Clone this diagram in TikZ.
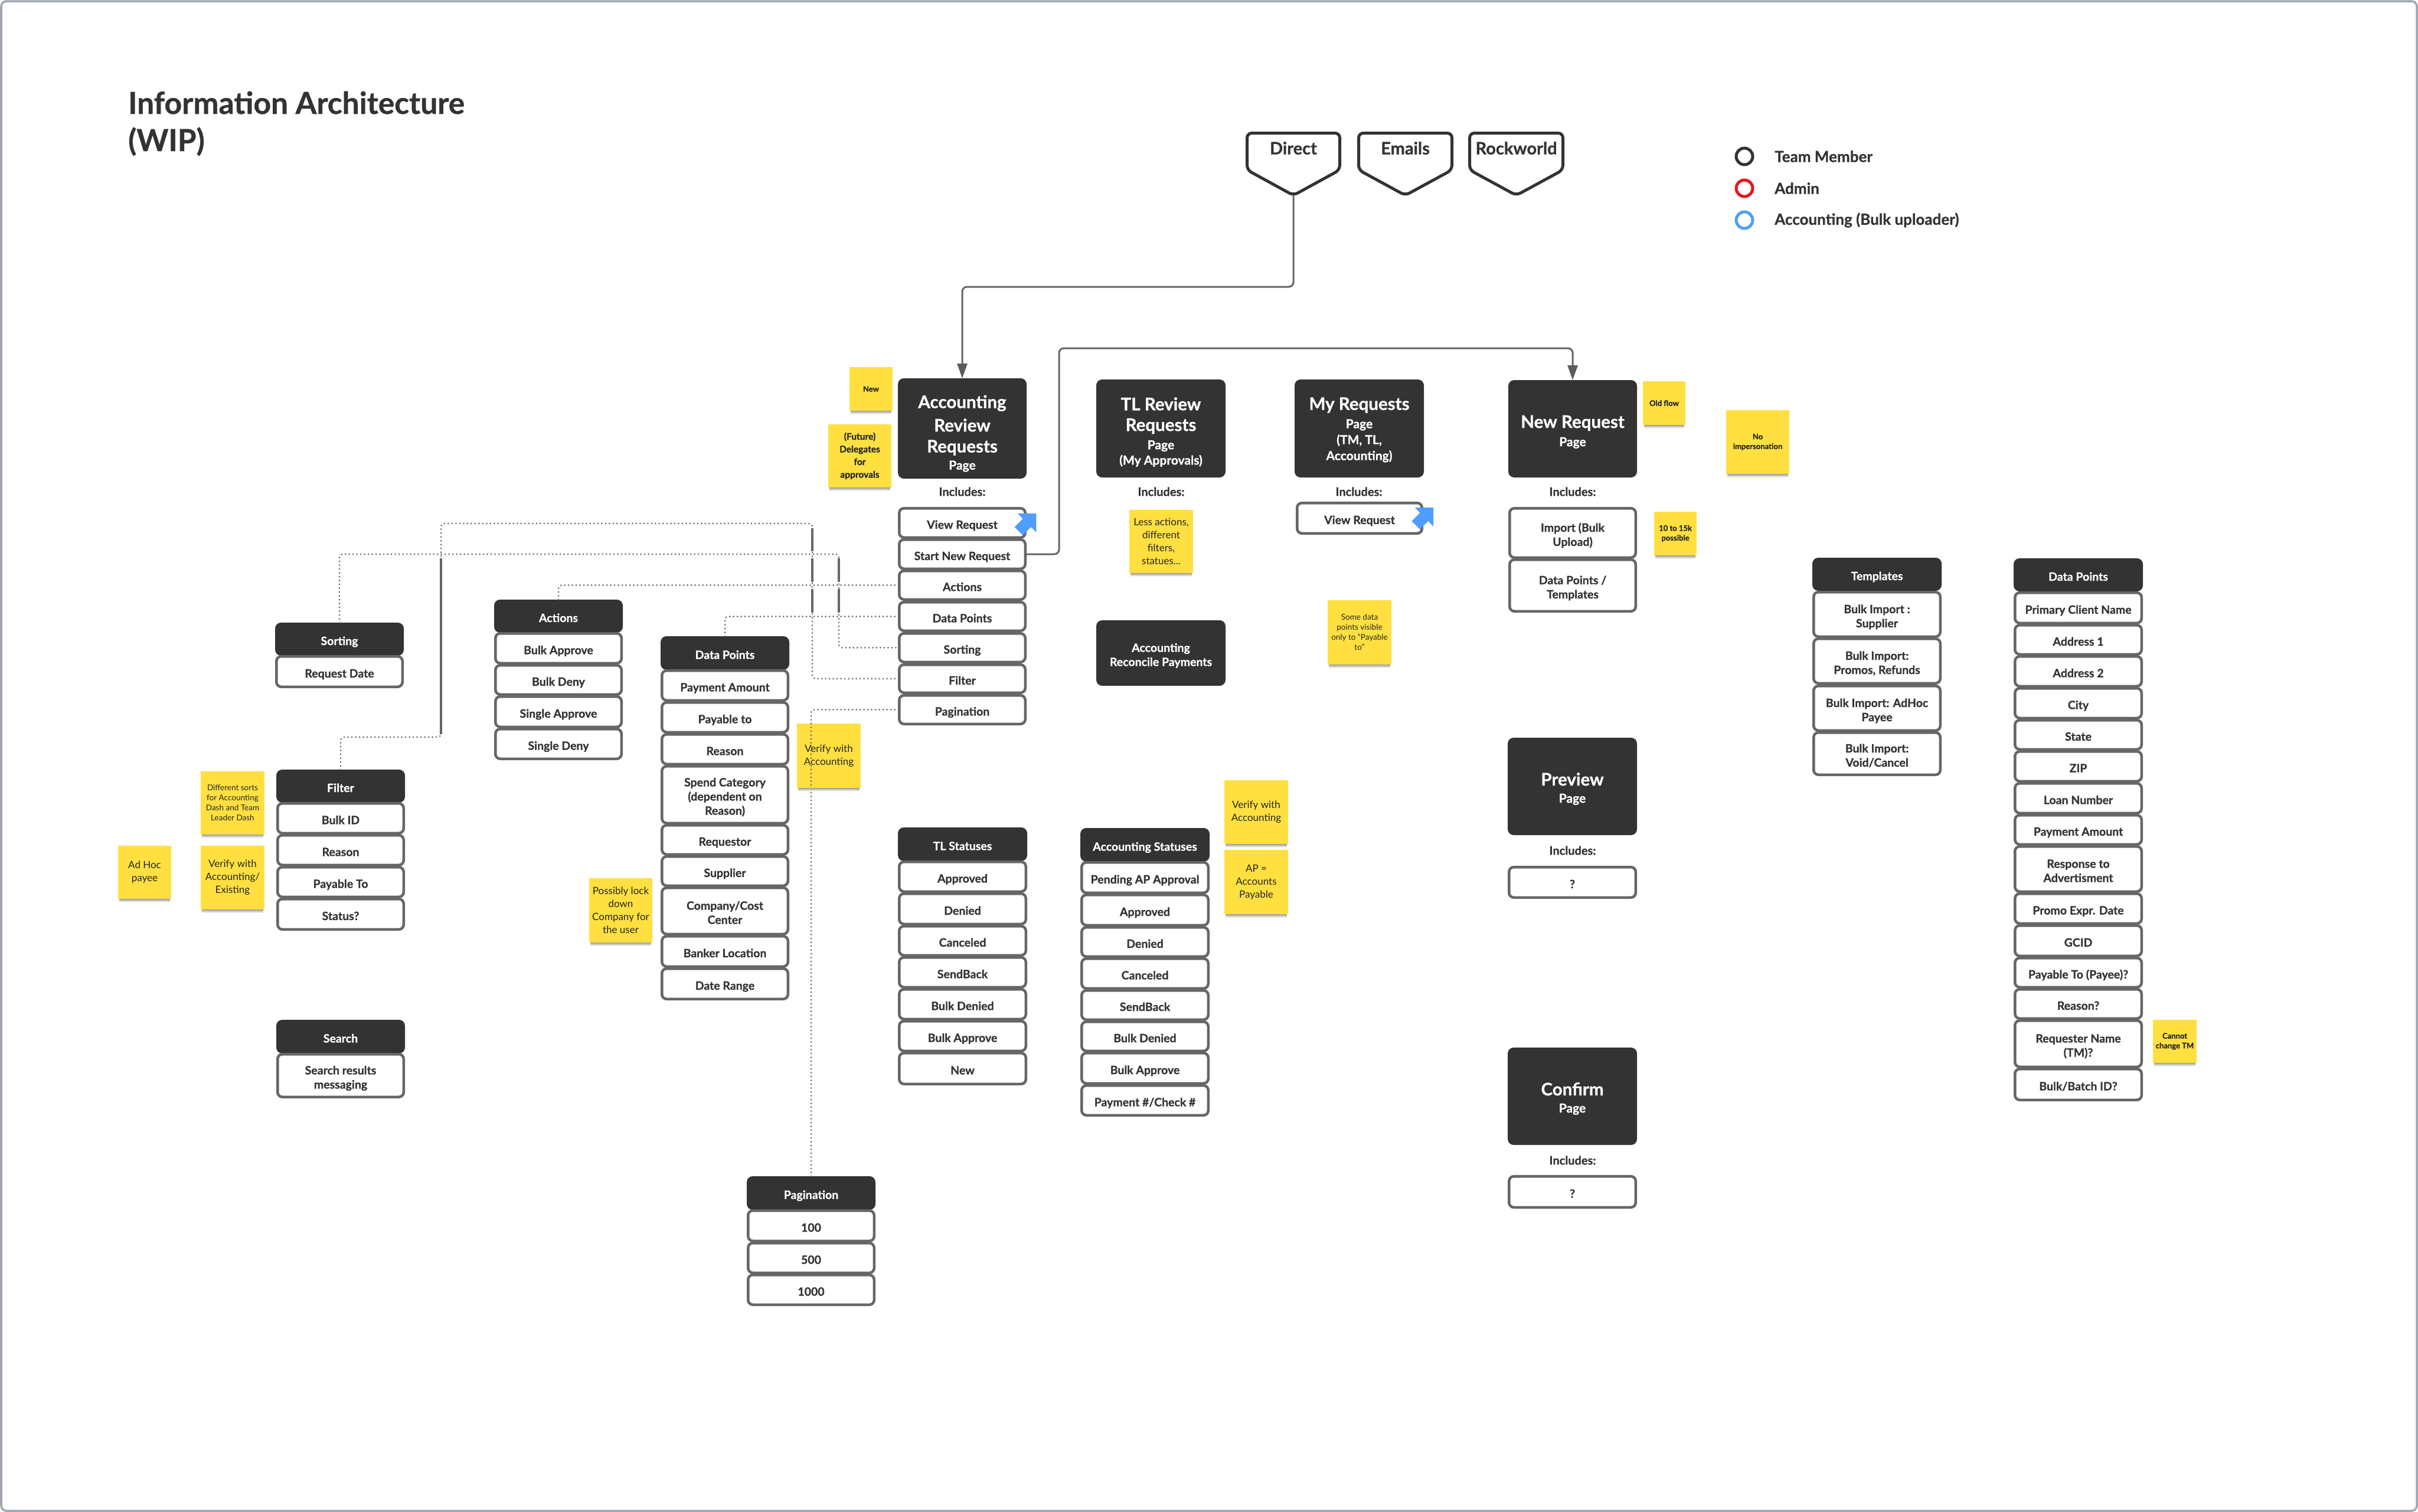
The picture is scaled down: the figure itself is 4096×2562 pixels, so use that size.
\documentclass[tikz,border=0pt]{standalone}
\usepackage{fontspec}
\setmainfont{Lato}[BoldFont={Lato Bold},BoldFeatures={FakeBold=0.7}]
\usetikzlibrary{arrows.meta,calc}
\definecolor{ink}{HTML}{333333}
\definecolor{edge}{HTML}{666666}
\definecolor{stick}{HTML}{FFE040}
\definecolor{frameb}{HTML}{A0A6B1}
\definecolor{blueA}{HTML}{4F9DFF}
\definecolor{redA}{HTML}{E8141C}
\newcommand\fs[2]{\fontsize{#1}{#2}\selectfont}
\newcommand\bgl{\bfseries\fs{29.5}{35.5}}
\newcommand\pg{\bfseries\fs{21}{28}}
\tikzset{
  itembox/.style={draw=edge,line width=4.5pt,fill=white,rounded corners=8pt,inner sep=0pt,outer sep=0pt,align=center,text=ink,font=\bfseries\fs{19.5}{24}},
  hdrbox/.style={fill=ink,rounded corners=10pt,inner sep=0pt,outer sep=0pt,align=center,text=white,font=\bfseries\fs{19.5}{24}},
  stickbox/.style={fill=stick,inner sep=0pt,outer sep=0pt,align=center,text=black!85},
  stL/.style={font=\fs{17}{22}},
  stM/.style={font=\fs{13.5}{17}},
  stB/.style={font=\bfseries\fs{15.5}{21.5}},
  stS/.style={font=\bfseries\fs{13}{16.5}},
  inclabel/.style={inner sep=0pt,text=ink,font=\bfseries\fs{20}{24}},
  legtext/.style={inner sep=0pt,anchor=west,text=ink,font=\bfseries\fs{26}{30}},
  legring/.style={circle,fill=white,line width=5pt,minimum size=28pt,inner sep=0pt},
  conn/.style={draw=edge,line width=3pt,rounded corners=8pt},
  dotconn/.style={draw=edge,line width=3pt,line cap=round,dash pattern=on 0pt off 6.5pt,rounded corners=6pt},
  solidseg/.style={draw=edge,line width=3.5pt},
  tipped/.style={-{Triangle[length=25pt,width=17pt,color=edge!90!black]}},
  shieldline/.style={draw=ink,line width=5pt,fill=white,rounded corners=8pt,line join=round},
  shieldtext/.style={inner sep=0pt,text=ink,font=\bfseries\fs{29}{32}},
  pointer/.style={fill=blueA},
}
\newcommand\topstrut{\rule{0pt}{26pt}}
\newcommand\botstrut{\rule[-6pt]{0pt}{6pt}}
% item: name x1 y1 x2 y2 text  (outer edges)
\newcommand\itm[6]{%
  \pgfmathsetmacro\cx{(#2+#4)/2}\pgfmathsetmacro\cy{(#3+#5)/2}%
  \pgfmathsetmacro\ww{#4-#2-4.5}\pgfmathsetmacro\hh{#5-#3-4.5}%
  \node[itembox,minimum width=\ww pt,minimum height=\hh pt] (#1) at (\cx,\cy) {\topstrut#6\botstrut};}
\newcommand\hdr[6]{%
  \pgfmathsetmacro\cx{(#2+#4)/2}\pgfmathsetmacro\cy{(#3+#5)/2}%
  \pgfmathsetmacro\ww{#4-#2}\pgfmathsetmacro\hh{#5-#3}%
  \node[hdrbox,minimum width=\ww pt,minimum height=\hh pt] (#1) at (\cx,\cy) {\topstrut#6\botstrut};}
\newcommand\phd[6]{%
  \pgfmathsetmacro\cx{(#2+#4)/2}\pgfmathsetmacro\cy{(#3+#5)/2}%
  \pgfmathsetmacro\ww{#4-#2}\pgfmathsetmacro\hh{#5-#3}%
  \node[hdrbox,minimum width=\ww pt,minimum height=\hh pt] (#1) at (\cx,\cy) {#6};}
\newcommand\stk[7]{%
  \pgfmathsetmacro\cx{(#3+#5)/2}\pgfmathsetmacro\cy{(#4+#6)/2}%
  \pgfmathsetmacro\ww{#5-#3}\pgfmathsetmacro\hh{#6-#4}%
  \shade[top color=black!38,bottom color=white] (#3+2,#6) rectangle (#5-2,#6+6);
  \node[stickbox,#1,minimum width=\ww pt,minimum height=\hh pt] (#2) at (\cx,\cy) {#7};}
\newcommand\shld[4]{%
  \pgfmathsetmacro\mx{(#2+#3)/2}%
  \path[shieldline] (#2+2.5,225.5) -- (#3-2.5,225.5) -- (#3-2.5,288) -- (\mx,331) -- (#2+2.5,288) -- cycle;
  \node[shieldtext] (#1) at (\mx,251) {#4};
  \coordinate (#1 tip) at (\mx,331);}
\newcommand\arrowmark[3]{%
  \fill[pointer] (#2,#3) -- +(0,32) -- +(-8.7,23) -- +(-22.7,37) -- +(-36.7,23) -- +(-22.7,9) -- +(-31.3,0) -- cycle;
  \coordinate (#1) at (#2,#3);}
\begin{document}
\begin{tikzpicture}[x=1pt,y=-1pt]
\useasboundingbox (0,0) rectangle (4096,2562);
\fill[white] (0,0) rectangle (4096,2562);
\draw[frameb,line width=3.5pt,rounded corners=9pt] (2,2) rectangle (4094,2560);

% title
\node[anchor=base west,inner sep=0pt,text=ink,font=\bfseries\fs{51.5}{63},align=left] (title) at (217,256) {Information Architecture\\(WIP)};

% entry shields
\shld{direct}{2110}{2272}{Direct}
\shld{emails}{2299}{2462}{Emails}
\shld{rockworld}{2487}{2650}{Rockworld}

% legend
\node[legring,draw=ink] (ringA) at (2955,265) {};
\node[legring,draw=redA] (ringB) at (2955,319) {};
\node[legring,draw=blueA] (ringC) at (2955,373) {};
\node[legtext] (legA) at (3006,265) {Team Member};
\node[legtext] (legB) at (3006,319) {Admin};
\node[legtext] (legC) at (3006,373) {Accounting (Bulk uploader)};

% page headers
\phd{accH}{1521}{641}{1739}{811}{\bgl\rule{0pt}{39pt}Accounting\\[11.5pt]\bgl Review\\[11.5pt]\bgl Requests\\[5pt]\pg Page}
\phd{tlH}{1857}{643}{2076}{809}{\bgl\rule{0pt}{34pt}TL Review\\[11pt]\bgl Requests\\[7pt]\pg Page\\[2pt]\pg (My Approvals)}
\phd{myH}{2193}{643}{2412}{809}{\bgl\rule{0pt}{26pt}My Requests\\[7pt]\pg Page\\[3pt]\pg (TM, TL,\\[3pt]\pg Accounting)}
\phd{newH}{2555}{644}{2773}{809}{\bgl\rule{0pt}{32pt}New Request\\[7pt]\pg Page}
\hdr{reconcile}{1857}{1051}{2076}{1162}{Accounting\\Reconcile Payments}
\phd{prevH}{2554}{1250}{2773}{1415}{\bgl\rule{0pt}{30pt}Preview\\[5pt]\pg Page}
\phd{confH}{2554}{1775}{2773}{1940}{\bgl\rule{0pt}{30pt}Confirm\\[5pt]\pg Page}

% includes labels
\node[inclabel] (incA) at (1630,833) {Includes:};
\node[inclabel] (incB) at (1967,833) {Includes:};
\node[inclabel] (incC) at (2302,833) {Includes:};
\node[inclabel] (incD) at (2664,833) {Includes:};
\node[inclabel] (incE) at (2664,1441) {Includes:};
\node[inclabel] (incF) at (2664,1966) {Includes:};

% accounting review list
\itm{aView}{1521}{859}{1739}{913}{View Request}
\itm{aStart}{1521}{912}{1739}{966}{Start New Request}
\itm{aActions}{1521}{965}{1739}{1018}{Actions}
\itm{aData}{1521}{1018}{1739}{1071}{Data Points}
\itm{aSort}{1521}{1071}{1739}{1124}{Sorting}
\itm{aFilter}{1521}{1124}{1739}{1176}{Filter}
\itm{aPage}{1521}{1176}{1739}{1229}{Pagination}
\arrowmark{markA}{1755.3}{870}

% my requests list
\itm{myView}{2195}{850}{2411}{906}{View Request}
\arrowmark{markB}{2428}{860}

% new request list
\itm{nImport}{2555}{859}{2773}{947}{Import (Bulk\\Upload)}
\itm{nData}{2555}{946}{2773}{1038}{Data Points /\\Templates}
\itm{prevQ}{2554}{1467}{2773}{1523}{?}
\itm{confQ}{2554}{1991}{2773}{2048}{?}

% templates
\hdr{tplH}{3070}{945}{3289}{1001}{Templates}
\itm{t1}{3070}{1001}{3289}{1081}{Bulk Import :\\Supplier}
\itm{t2}{3070}{1080}{3289}{1160}{Bulk Import:\\Promos, Refunds}
\itm{t3}{3070}{1160}{3289}{1240}{Bulk Import: AdHoc\\Payee}
\itm{t4}{3070}{1239}{3289}{1315}{Bulk Import:\\Void/Cancel}

% right data points
\hdr{dpH}{3411}{946}{3630}{1002}{Data Points}
\itm{d1}{3411}{1002}{3630}{1058}{Primary Client Name}
\itm{d2}{3411}{1057}{3630}{1111}{Address 1}
\itm{d3}{3411}{1110}{3630}{1165}{Address 2}
\itm{d4}{3411}{1164}{3630}{1219}{City}
\itm{d5}{3411}{1218}{3630}{1272}{State}
\itm{d6}{3411}{1271}{3630}{1326}{ZIP}
\itm{d7}{3411}{1325}{3630}{1380}{Loan Number}
\itm{d8}{3411}{1379}{3630}{1433}{Payment Amount}
\itm{d9}{3411}{1432}{3630}{1513}{Response to\\Advertisment}
\itm{d10}{3411}{1512}{3630}{1567}{Promo Expr. Date}
\itm{d11}{3411}{1566}{3630}{1622}{GCID}
\itm{d12}{3411}{1621}{3630}{1675}{Payable To (Payee)?}
\itm{d13}{3411}{1674}{3630}{1728}{Reason?}
\itm{d14}{3411}{1727}{3630}{1810}{Requester Name\\(TM)?}
\itm{d15}{3411}{1809}{3630}{1866}{Bulk/Batch ID?}

% sorting
\hdr{sortH}{466}{1055}{684}{1111}{Sorting}
\itm{sort1}{466}{1110}{684}{1166}{Request Date}

% actions
\hdr{actH}{837}{1016}{1055}{1072}{Actions}
\itm{act1}{837}{1071}{1055}{1126}{Bulk Approve}
\itm{act2}{837}{1125}{1055}{1179}{Bulk Deny}
\itm{act3}{837}{1178}{1055}{1234}{Single Approve}
\itm{act4}{837}{1233}{1055}{1288}{Single Deny}

% middle data points
\hdr{mdH}{1119}{1078}{1337}{1135}{Data Points}
\itm{m1}{1119}{1134}{1337}{1189}{Payment Amount}
\itm{m2}{1119}{1188}{1337}{1243}{Payable to}
\itm{m3}{1119}{1242}{1337}{1297}{Reason}
\itm{m4}{1119}{1296}{1337}{1397}{Spend Category\\(dependent on\\Reason)}
\itm{m5}{1119}{1396}{1337}{1450}{Requestor}
\itm{m6}{1119}{1449}{1337}{1503}{Supplier}
\itm{m7}{1119}{1502}{1337}{1585}{Company/Cost\\Center}
\itm{m8}{1119}{1584}{1337}{1640}{Banker Location}
\itm{m9}{1119}{1639}{1337}{1695}{Date Range}

% filter
\hdr{filH}{468}{1304}{686}{1360}{Filter}
\itm{f1}{468}{1359}{686}{1414}{Bulk ID}
\itm{f2}{468}{1413}{686}{1468}{Reason}
\itm{f3}{468}{1467}{686}{1522}{Payable To}
\itm{f4}{468}{1521}{686}{1577}{Status?}

% search
\hdr{seaH}{468}{1728}{686}{1785}{Search}
\itm{sea1}{468}{1784}{686}{1861}{Search results\\messaging}

% pagination
\hdr{pagH}{1265}{1993}{1483}{2050}{Pagination}
\itm{pag1}{1265}{2049}{1483}{2105}{100}
\itm{pag2}{1265}{2104}{1483}{2159}{500}
\itm{pag3}{1265}{2158}{1483}{2213}{1000}

% TL statuses
\hdr{tsH}{1521}{1402}{1740}{1459}{TL Statuses}
\itm{ts1}{1521}{1458}{1740}{1513}{Approved}
\itm{ts2}{1521}{1512}{1740}{1568}{Denied}
\itm{ts3}{1521}{1567}{1740}{1621}{Canceled}
\itm{ts4}{1521}{1620}{1740}{1675}{SendBack}
\itm{ts5}{1521}{1674}{1740}{1729}{Bulk Denied}
\itm{ts6}{1521}{1728}{1740}{1783}{Bulk Approve}
\itm{ts7}{1521}{1782}{1740}{1839}{New}

% accounting statuses
\hdr{asH}{1830}{1403}{2049}{1460}{Accounting Statuses}
\itm{as1}{1830}{1459}{2049}{1515}{Pending AP Approval}
\itm{as2}{1830}{1514}{2049}{1570}{Approved}
\itm{as3}{1830}{1569}{2049}{1623}{Denied}
\itm{as4}{1830}{1622}{2049}{1677}{Canceled}
\itm{as5}{1830}{1676}{2049}{1730}{SendBack}
\itm{as6}{1830}{1729}{2049}{1783}{Bulk Denied}
\itm{as7}{1830}{1782}{2049}{1838}{Bulk Approve}
\itm{as8}{1830}{1837}{2049}{1892}{Payment \#/Check \#}

% connectors
\coordinate (hA) at (0,486);
\draw[conn,tipped] (direct tip) -- (direct tip |- hA) -- (accH.north |- hA) -- (accH.north);
\coordinate (vB) at (1794,590);
\draw[conn,tipped] (aStart.east) -- (vB |- aStart.east) -- (vB) -- (newH.north |- vB) -- (newH.north);

\coordinate (dotA) at (747,887);
\coordinate (dotB) at (1376,1249);
\coordinate (dotC) at (1421,939);
\draw[dotconn] (sortH.north) -- (sortH.north |- dotC) -- (dotC) -- (dotC |- aSort.west) -- (aSort.west);
\draw[dotconn] (filH.north) -- (filH.north |- dotB) -- (dotA |- dotB) -- (dotA) -- (dotB |- dotA) -- (dotB |- aFilter.west) -- (aFilter.west);
\draw[dotconn] (actH.north) -- (actH.north |- aActions.west) -- (aActions.west);
\draw[dotconn] (mdH.north) -- (mdH.north |- aData.west) -- (aData.west);
\draw[dotconn] (pagH.north) -- (pagH.north |- aPage.west) -- (aPage.west);

% solid stretches of the same connectors
\draw[solidseg] (747,946) -- (747,1244);
\draw[solidseg] (1376,895) -- (1376,934);
\draw[solidseg] (1376,946) -- (1376,986);
\draw[solidseg] (1376,998) -- (1376,1038);
\draw[solidseg] (1421,946) -- (1421,986);
\draw[solidseg] (1421,998) -- (1421,1038);

% sticky notes
\stk{stS}{nNew}{1439}{622}{1512}{696}{New}
\stk{stB}{nFuture}{1403}{719}{1510}{826}{(Future)\\Delegates\\for\\approvals}
\stk{stL}{nLess}{1913}{864}{2021}{971}{Less actions,\\different\\filters,\\statues...}
\stk{stM}{nSome}{2249}{1017}{2357}{1126}{Some data\\points visible\\only to “Payable\\to”}
\stk{stS}{nOld}{2783}{646}{2855}{720}{Old flow}
\stk{stS}{nNoImp}{2924}{695}{3031}{803}{No\\impersonation}
\stk{stS}{nTen}{2802}{867}{2874}{941}{10 to 15k\\possible}
\stk{stS}{nCannot}{3647}{1728}{3721}{1801}{Cannot\\change TM}
\stk{stM}{nDiff}{340}{1307}{448}{1414}{Different sorts\\for Accounting\\Dash and Team\\Leader Dash}
\stk{stL}{nVerA}{340}{1433}{448}{1541}{Verify with\\Accounting/\\Existing}
\stk{stL}{nAdHoc}{200}{1433}{290}{1523}{Ad Hoc\\payee}
\stk{stL}{nLock}{998}{1488}{1105}{1597}{Possibly lock\\down\\Company for\\the user}
\stk{stL}{nVerB}{2074}{1322}{2182}{1430}{Verify with\\Accounting}
\stk{stL}{nAP}{2074}{1440}{2182}{1549}{AP =\\Accounts\\Payable}
\stk{stL}{nVerC}{1350}{1226}{1458}{1335}{Verify with\\Accounting}
% the pagination connector runs over this note
\draw[dotconn] (pagH.north |- nVerC.north) -- (pagH.north |- nVerC.south);
\end{tikzpicture}
\end{document}
